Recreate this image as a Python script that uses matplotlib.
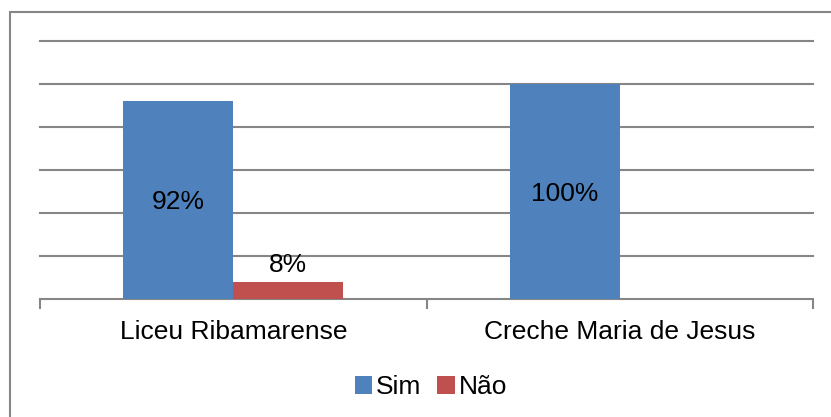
import numpy as np
import matplotlib.pyplot as plt
from matplotlib.patches import Rectangle

plt.rcParams['font.family'] = ['Liberation Sans', 'DejaVu Sans']

# Dados
escolas = ['Liceu Ribamarense', 'Creche Maria de Jesus']
sim = [0.92, 1.00]
nao = [0.08, 0.0]
rotulos_sim = ['92%', '100%']
rotulos_nao = ['8%', '']

azul = '#4F81BD'
vermelho = '#C0504D'
cinza = '#868686'
fs = 19

fig = plt.figure(figsize=(8.31, 4.17), dpi=100)
ax = fig.add_axes([40 / 831, 1 - 299 / 417, (813 - 40) / 831, (299 - 41) / 417])

# borda do gráfico
fig.patches.append(Rectangle((10 / 831, -0.1), 1.2, 1 - 12 / 417 + 0.1,
                             transform=fig.transFigure, fill=False,
                             edgecolor=cinza, linewidth=1.5))

x = np.arange(len(escolas))
w = 0.285
b1 = ax.bar(x - w / 2, sim, w, color=azul, label='Sim', zorder=3)
b2 = ax.bar(x + w / 2, nao, w, color=vermelho, label='Não', zorder=3)

for rect, txt in zip(b1, rotulos_sim):
    ax.text(rect.get_x() + rect.get_width() / 2, rect.get_height() / 2 - 0.01, txt,
            ha='center', va='center', fontsize=fs, zorder=4)
for rect, txt in zip(b2, rotulos_nao):
    if txt:
        ax.text(rect.get_x() + rect.get_width() / 2, rect.get_height() + 0.02, txt,
                ha='center', va='bottom', fontsize=fs, zorder=4)

ax.set_ylim(0, 1.2)
ax.set_xlim(-0.5, 1.5)
ax.set_yticks(np.arange(0.2, 1.21, 0.2))
ax.yaxis.grid(True, color=cinza, linewidth=1.5, zorder=0)
for gl in ax.yaxis.get_gridlines():
    gl.set_clip_on(False)
ax.tick_params(axis='y', length=0, labelleft=False)

ax.set_xticks([-0.5, 0.5, 1.5])
ax.set_xticklabels(['', '', ''])
ax.tick_params(axis='x', which='major', length=7, width=1.5, color=cinza)
ax.set_xticks(x, minor=True)
ax.set_xticklabels(escolas, minor=True, fontsize=fs)
ax.tick_params(axis='x', which='minor', length=0, pad=15)

for s in ['top', 'left', 'right']:
    ax.spines[s].set_visible(False)
ax.spines['bottom'].set_color(cinza)
ax.spines['bottom'].set_linewidth(1.5)

fig.legend(loc='center', bbox_to_anchor=(431 / 831, 1 - 387 / 417), ncol=2,
           frameon=False, fontsize=fs, handlelength=0.65, handleheight=0.65,
           handletextpad=0.15, columnspacing=0.6)

fig.savefig('out.png', dpi=100)
